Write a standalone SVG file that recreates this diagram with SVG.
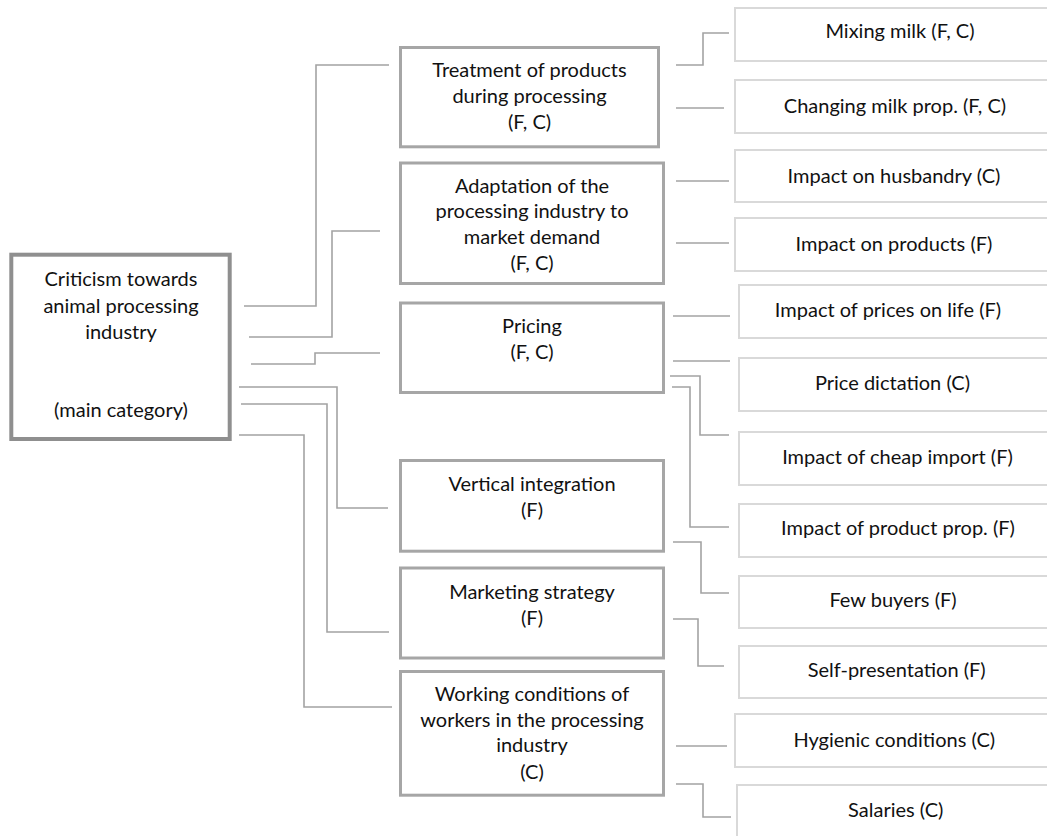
<svg xmlns="http://www.w3.org/2000/svg" width="1047" height="836" viewBox="0 0 1047 836">
<style>
text{font-family:Lato,"Liberation Sans",sans-serif;font-size:20px;fill:#111;text-anchor:middle}
.main{fill:#fff;stroke:#8f8f8f;stroke-width:4}
.mid{fill:#fff;stroke:#a6a6a6;stroke-width:3}
.sub{fill:#fff;stroke:#d9d9d9;stroke-width:2}
.con path{fill:none;stroke:#a3a3a3;stroke-width:1.6}
</style>
<rect width="1047" height="836" fill="#fff"/>
<g class="con" id="connectors">
<path d="M244,306H316V65H389"/>
<path d="M249,337H332V231H380"/>
<path d="M251,364H315V353H380"/>
<path d="M239,387H337V508H388"/>
<path d="M241,404H327V632H389"/>
<path d="M239,435H304V707H392"/>
<path d="M676,65H703V33H729"/>
<path d="M676,108H724"/>
<path d="M676,181H729"/>
<path d="M676,243H729"/>
<path d="M673,316H730"/>
<path d="M673,361H730"/>
<path d="M670,376H700V435H729"/>
<path d="M672,387H690V527H729"/>
<path d="M673,542H701V593H729"/>
<path d="M673,619H698V666H724"/>
<path d="M676,746H727"/>
<path d="M676,784H703V817H731"/>
</g>
<g id="main">
<rect class="main" x="11.3" y="254.7" width="218.4" height="184.3"/>
<text x="121" y="286">Criticism towards</text>
<text x="121" y="313">animal processing</text>
<text x="121" y="339">industry</text>
<text x="121" y="417">(main category)</text>
</g>
<g id="treatment">
<rect class="mid" x="400.5" y="47.5" width="258" height="99.3"/>
<text x="529.5" y="77">Treatment of products</text>
<text x="529.5" y="103">during processing</text>
<text x="529.5" y="129">(F, C)</text>
</g>
<g id="adaptation">
<rect class="mid" x="400.5" y="163" width="263" height="120.5"/>
<text x="532" y="193">Adaptation of the</text>
<text x="532" y="218">processing industry to</text>
<text x="532" y="244">market demand</text>
<text x="532" y="270">(F, C)</text>
</g>
<g id="pricing">
<rect class="mid" x="400.5" y="303" width="263" height="89.5"/>
<text x="532" y="333">Pricing</text>
<text x="532" y="359">(F, C)</text>
</g>
<g id="vertical">
<rect class="mid" x="400.5" y="460.5" width="263" height="90.7"/>
<text x="532" y="491">Vertical integration</text>
<text x="532" y="517">(F)</text>
</g>
<g id="marketing">
<rect class="mid" x="400.5" y="568" width="263" height="90"/>
<text x="532" y="599">Marketing strategy</text>
<text x="532" y="625">(F)</text>
</g>
<g id="working">
<rect class="mid" x="400.5" y="671.5" width="263" height="123.7"/>
<text x="532" y="701">Working conditions of</text>
<text x="532" y="727">workers in the processing</text>
<text x="532" y="752">industry</text>
<text x="532" y="779">(C)</text>
</g>
<g id="r1"><rect class="sub" x="735" y="8" width="400" height="53"/><text x="900" y="38">Mixing milk (F, C)</text></g>
<g id="r2"><rect class="sub" x="735" y="80" width="400" height="53"/><text x="895" y="113">Changing milk prop. (F, C)</text></g>
<g id="r3"><rect class="sub" x="735" y="150" width="400" height="52"/><text x="894" y="183">Impact on husbandry (C)</text></g>
<g id="r4"><rect class="sub" x="735" y="218" width="400" height="53"/><text x="894" y="251">Impact on products (F)</text></g>
<g id="r5"><rect class="sub" x="739" y="285" width="400" height="53"/><text x="888" y="317">Impact of prices on life (F)</text></g>
<g id="r6"><rect class="sub" x="739" y="358" width="400" height="53"/><text x="892.5" y="390">Price dictation (C)</text></g>
<g id="r7"><rect class="sub" x="739" y="432" width="400" height="53"/><text x="897.5" y="464">Impact of cheap import (F)</text></g>
<g id="r8"><rect class="sub" x="739" y="504" width="400" height="53"/><text x="898" y="535">Impact of product prop. (F)</text></g>
<g id="r9"><rect class="sub" x="739" y="576" width="400" height="52"/><text x="893" y="607">Few buyers (F)</text></g>
<g id="r10"><rect class="sub" x="739" y="646" width="400" height="52"/><text x="896.7" y="677">Self-presentation (F)</text></g>
<g id="r11"><rect class="sub" x="735" y="714" width="400" height="53"/><text x="894.3" y="747">Hygienic conditions (C)</text></g>
<g id="r12"><rect class="sub" x="737" y="785" width="400" height="100"/><text x="895.8" y="817">Salaries (C)</text></g>
</svg>
